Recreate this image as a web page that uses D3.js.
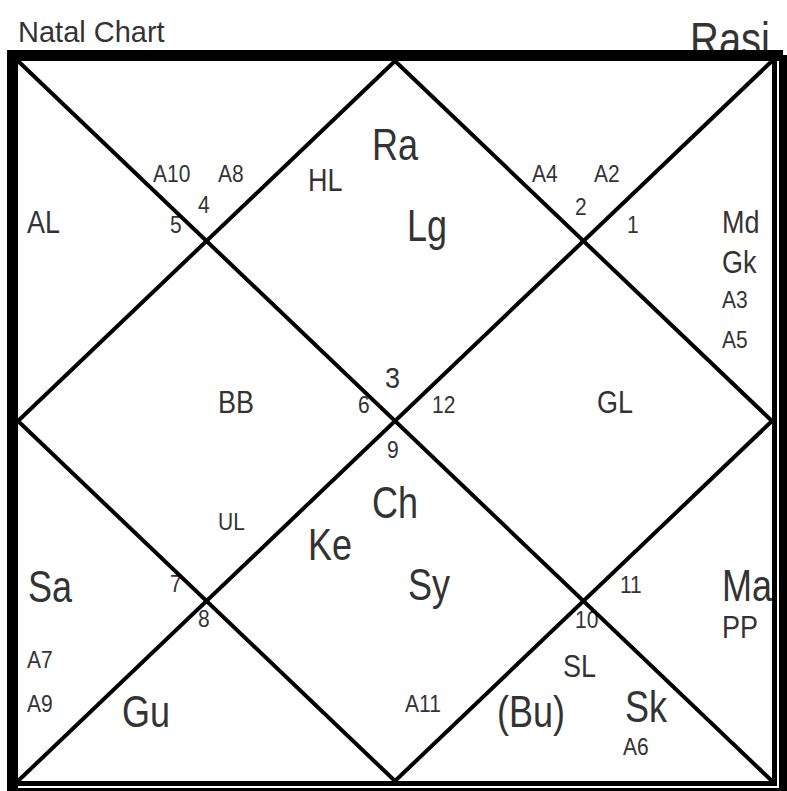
<!DOCTYPE html>
<html>
<head>
<meta charset="utf-8">
<script src="https://cdn.jsdelivr.net/npm/d3@7"></script>
<style>
  html, body { margin: 0; padding: 0; background: #fff; }
  svg { display: block; }
</style>
</head>
<body>
<div id="chart"></div>
<script>
// ---- data ----
const title = "Natal Chart";
const chartName = "Rasi";
const grahas = ["Ra", "Lg", "Ch", "Ke", "Sy", "Sa", "Gu", "(Bu)", "Sk", "Ma"];
const specialLagnas = ["HL", "AL", "Md", "Gk", "BB", "GL", "PP", "SL"];
const arudhas = ["A10", "A8", "A4", "A2", "A3", "A5", "A7", "A9", "A11", "A6", "UL"];
const signNumbers = ["1", "2", "3", "4", "5", "6", "7", "8", "9", "10", "11", "12"];

// ---- layout (chart units 0..100, left x / baseline y) ----
const grahaPos = [[46.95,13.75],[51.59,25.0],[46.95,63.47],[38.46,69.31],[51.72,74.86],[1.33,75.14],[13.79,92.5],[63.53,92.5],[80.5,91.8],[93.37,75.0]];
const lagnaPos = [[38.46,18.06],[1.19,23.89],[93.37,23.89],[93.37,29.44],[26.53,48.89],[76.79,48.89],[93.37,80.1],[72.28,85.56]];
const arudhaPos = [[17.9,16.81],[26.53,16.81],[68.17,16.81],[76.39,16.81],[93.37,34.31],[93.37,39.86],[1.19,84.31],[1.19,90.42],[51.33,90.42],[80.24,96.4],[26.53,65.14]];
const signPos = [[80.77,23.89],[73.87,21.39],[48.67,45.42],[23.87,21.11],[20.16,23.89],[45.09,48.89],[20.16,73.75],[23.87,78.61],[48.94,55.14],[73.87,78.75],[79.84,73.89],[54.91,48.89]];

const W = 787, H = 791;
const x = d3.scaleLinear().domain([0, 100]).range([18, 772]);
const y = d3.scaleLinear().domain([0, 100]).range([61, 781]);

const svg = d3.select("#chart").append("svg").attr("width", W).attr("height", H);
svg.append("rect").attr("width", W).attr("height", H).attr("fill", "#fff");

const FONT = "'Liberation Sans', Arial, sans-serif";
const TXT = "#333";

function drawLabels(labels, pos, size, sy, cls) {
  svg.append("g").attr("class", cls)
    .selectAll("text").data(labels).join("text")
    .attr("transform", (d, i) => `translate(${x(pos[i][0])},${y(pos[i][1])}) scale(1,${sy})`)
    .attr("font-family", FONT).attr("font-size", size).attr("fill", TXT)
    .text(d => d);
}

// title texts
svg.append("text").attr("x", 18).attr("y", 42)
  .attr("font-family", FONT).attr("font-size", 29).attr("fill", TXT).text(title);
svg.append("text").attr("transform", "translate(690,56) scale(1,1.2)")
  .attr("font-family", FONT).attr("font-size", 40).attr("fill", TXT).text(chartName);

drawLabels(grahas, grahaPos, 36, 1.25, "grahas");
drawLabels(specialLagnas, lagnaPos, 27, 1.15, "lagnas");
drawLabels(arudhas, arudhaPos, 21, 1.1, "arudhas");
drawLabels(signNumbers, signPos, 21, 1.1, "signs");
// sign 3 is drawn larger in the reference
svg.selectAll("g.signs text").filter(d => d === "3").attr("font-size", 27);

// ---- chart lines ----
const lines = svg.append("g").attr("stroke", "#000").attr("stroke-width", 4).attr("fill", "none")
  .attr("stroke-linecap", "round");
lines.append("line").attr("x1", x(0)).attr("y1", y(0)).attr("x2", x(100)).attr("y2", y(100));
lines.append("line").attr("x1", x(100)).attr("y1", y(0)).attr("x2", x(0)).attr("y2", y(100));
lines.append("path").attr("d", d3.line()([[x(50), y(0)], [x(100), y(50)], [x(50), y(100)], [x(0), y(50)], [x(50), y(0)]]))
  .attr("stroke-linejoin", "miter");

// ---- frame ----
const frame = svg.append("g").attr("fill", "#000");
frame.append("rect").attr("x", 7).attr("y", 50).attr("width", 776).attr("height", 11);   // top
frame.append("rect").attr("x", 7).attr("y", 50).attr("width", 11).attr("height", 741);   // left
frame.append("rect").attr("x", 772).attr("y", 55).attr("width", 5).attr("height", 731);  // right inner
frame.append("rect").attr("x", 779).attr("y", 55).attr("width", 8).attr("height", 736);  // right outer
frame.append("rect").attr("x", 7).attr("y", 781).attr("width", 770).attr("height", 5);   // bottom inner
frame.append("rect").attr("x", 10).attr("y", 788).attr("width", 777).attr("height", 3);  // bottom outer
</script>
</body>
</html>
